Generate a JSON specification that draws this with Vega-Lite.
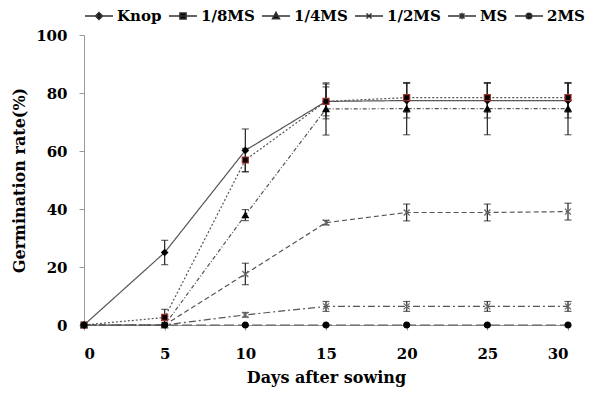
{
  "$schema": "https://vega.github.io/schema/vega-lite/v6.json",
  "autosize": "none",
  "width": 484,
  "height": 290,
  "padding": {"left": 84, "top": 35, "right": 25, "bottom": 70},
  "background": "white",
  "data": {"values": [
    {"series": "Knop", "day": 0, "rate": 0, "sd": 0},
    {"series": "Knop", "day": 5, "rate": 25.0, "sd": 4.2},
    {"series": "Knop", "day": 10, "rate": 60.2, "sd": 7.4},
    {"series": "Knop", "day": 15, "rate": 77.1, "sd": 6},
    {"series": "Knop", "day": 20, "rate": 77.4, "sd": 6},
    {"series": "Knop", "day": 25, "rate": 77.4, "sd": 6},
    {"series": "Knop", "day": 30, "rate": 77.4, "sd": 6},
    {"series": "1/8MS", "day": 0, "rate": 0, "sd": 0},
    {"series": "1/8MS", "day": 5, "rate": 2.6, "sd": 2.8},
    {"series": "1/8MS", "day": 10, "rate": 56.9, "sd": 4},
    {"series": "1/8MS", "day": 15, "rate": 77.1, "sd": 5},
    {"series": "1/8MS", "day": 20, "rate": 78.4, "sd": 5},
    {"series": "1/8MS", "day": 25, "rate": 78.4, "sd": 5},
    {"series": "1/8MS", "day": 30, "rate": 78.4, "sd": 5},
    {"series": "1/4MS", "day": 0, "rate": 0, "sd": 0},
    {"series": "1/4MS", "day": 5, "rate": 0, "sd": 0},
    {"series": "1/4MS", "day": 10, "rate": 37.9, "sd": 1.9},
    {"series": "1/4MS", "day": 15, "rate": 74.5, "sd": 9},
    {"series": "1/4MS", "day": 20, "rate": 74.6, "sd": 9},
    {"series": "1/4MS", "day": 25, "rate": 74.6, "sd": 9},
    {"series": "1/4MS", "day": 30, "rate": 74.6, "sd": 9},
    {"series": "1/2MS", "day": 0, "rate": 0, "sd": 0},
    {"series": "1/2MS", "day": 5, "rate": 0, "sd": 0},
    {"series": "1/2MS", "day": 10, "rate": 17.6, "sd": 3.7},
    {"series": "1/2MS", "day": 15, "rate": 35.3, "sd": 0.8},
    {"series": "1/2MS", "day": 20, "rate": 38.8, "sd": 2.9},
    {"series": "1/2MS", "day": 25, "rate": 38.8, "sd": 2.9},
    {"series": "1/2MS", "day": 30, "rate": 39.1, "sd": 2.9},
    {"series": "MS", "day": 0, "rate": 0, "sd": 0},
    {"series": "MS", "day": 5, "rate": 0, "sd": 0},
    {"series": "MS", "day": 10, "rate": 3.5, "sd": 0.8},
    {"series": "MS", "day": 15, "rate": 6.4, "sd": 1.7},
    {"series": "MS", "day": 20, "rate": 6.4, "sd": 1.7},
    {"series": "MS", "day": 25, "rate": 6.4, "sd": 1.7},
    {"series": "MS", "day": 30, "rate": 6.4, "sd": 1.7},
    {"series": "2MS", "day": 0, "rate": 0, "sd": 0},
    {"series": "2MS", "day": 5, "rate": 0, "sd": 0},
    {"series": "2MS", "day": 10, "rate": 0, "sd": 0},
    {"series": "2MS", "day": 15, "rate": 0, "sd": 0},
    {"series": "2MS", "day": 20, "rate": 0, "sd": 0},
    {"series": "2MS", "day": 25, "rate": 0, "sd": 0},
    {"series": "2MS", "day": 30, "rate": 0, "sd": 0}
  ]},
  "encoding": {
    "x": {"field": "day", "type": "quantitative", "scale": {"domain": [0, 30], "nice": false},
      "axis": {"values": [0, 5, 10, 15, 20, 25, 30], "title": "Days after sowing", "labelPadding": 16, "titlePadding": 8}},
    "y": {"field": "rate", "type": "quantitative", "scale": {"domain": [0, 100], "nice": false},
      "axis": {"values": [0, 20, 40, 60, 80, 100], "title": "Germination rate(%)", "labelPadding": 12, "titlePadding": 8}}
  },
  "layer": [
    {
      "mark": {"type": "line", "color": "#555", "strokeWidth": 1.2},
      "encoding": {
        "detail": {"field": "series"},
        "strokeDash": {"field": "series", "type": "nominal", "title": null,
          "scale": {"domain": ["Knop", "1/8MS", "1/4MS", "1/2MS", "MS", "2MS"],
            "range": [[1, 0], [2, 2], [4, 2, 1, 2], [5, 3], [7, 3, 2, 3], [10, 4]]}}
      }
    },
    {
      "transform": [{"filter": "datum.sd > 0"}],
      "mark": {"type": "errorbar", "color": "#222", "thickness": 1.2, "ticks": {"size": 7, "color": "#222", "thickness": 1.2}},
      "encoding": {
        "y": {"field": "rate", "type": "quantitative"},
        "yError": {"field": "sd"},
        "detail": {"field": "series"}
      }
    },
    {
      "mark": {"type": "point", "filled": true, "fill": "black", "strokeWidth": 1.2, "size": 36, "opacity": 1},
      "encoding": {
        "shape": {"field": "series", "type": "nominal", "legend": null,
          "scale": {"domain": ["Knop", "1/8MS", "1/4MS", "1/2MS", "MS", "2MS"],
            "range": ["diamond", "square", "triangle-up", "M-1,-1L1,1M-1,1L1,-1", "M-1,-1L1,1M-1,1L1,-1M0,-1L0,1", "circle"]}},
        "stroke": {"field": "series", "type": "nominal", "legend": null,
          "scale": {"domain": ["Knop", "1/8MS", "1/4MS", "1/2MS", "MS", "2MS"],
            "range": ["black", "#a0302a", "black", "#666", "#666", "black"]}}
      }
    },
    {
      "mark": {"type": "point", "filled": true, "fill": "black", "stroke": "#333", "strokeWidth": 1, "opacity": 0},
      "encoding": {
        "shape": {"field": "series", "type": "nominal", "title": null,
          "scale": {"domain": ["Knop", "1/8MS", "1/4MS", "1/2MS", "MS", "2MS"],
            "range": [
              "M-1,0H1M0,-0.25L0.25,0L0,0.25L-0.25,0Z",
              "M-1,0H1M-0.22,-0.22H0.22V0.22H-0.22Z",
              "M-1,0H1M0,-0.26L0.25,0.2H-0.25Z",
              "M-1,0H1M-0.18,-0.18L0.18,0.18M-0.18,0.18L0.18,-0.18",
              "M-1,0H1M-0.18,-0.18L0.18,0.18M-0.18,0.18L0.18,-0.18M0,-0.24V0.24",
              "M-1,0H1M0.2,0A0.2,0.2 0 1,1 -0.2,0A0.2,0.2 0 1,1 0.2,0Z"
            ]},
          "legend": {"encode": {"symbols": {"update": {
              "opacity": {"value": 1},
              "fill": {"value": "black"},
              "fillOpacity": {"value": 1},
              "stroke": {"value": "#333"},
              "strokeOpacity": {"value": 1},
              "strokeWidth": {"value": 1},
              "strokeDash": {"scale": "strokeDash", "field": "value"}
            }}}}},
        "strokeDash": {"field": "series", "type": "nominal", "title": null}
      }
    }
  ],
  "resolve": {"scale": {"shape": "independent"}},
  "config": {
    "view": {"stroke": null},
    "legend": {"orient": "top", "direction": "horizontal", "gridAlign": "none", "symbolSize": 784,
      "labelFont": "DejaVu Serif", "labelFontWeight": "bold", "labelFontSize": 15, "labelColor": "black",
      "labelOffset": 3, "columnPadding": 4, "offset": 11, "labelLimit": 200},
    "axis": {
      "grid": false,
      "domainColor": "#999",
      "tickColor": "#999",
      "tickSize": 5,
      "labelFont": "DejaVu Serif",
      "labelFontWeight": "bold",
      "labelFontSize": 15,
      "labelColor": "black",
      "titleFont": "DejaVu Serif",
      "titleFontWeight": "bold",
      "titleFontSize": 16,
      "titleColor": "black"
    }
  }
}
